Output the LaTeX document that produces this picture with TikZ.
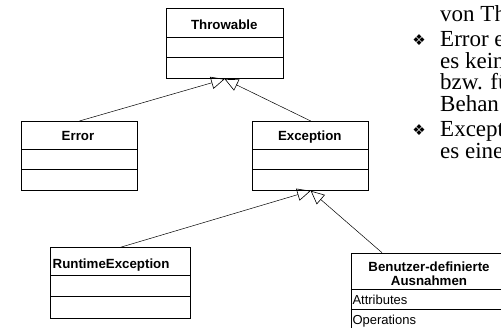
\documentclass[tikz,border=0pt]{standalone}
\usepackage{fontspec}
\setmainfont{Liberation Serif}
\newfontfamily\umlfont{Liberation Sans}
\newfontfamily\symfont{DejaVu Sans}
\usetikzlibrary{arrows.meta}
\begin{document}
\begin{tikzpicture}[x=1pt,y=-1pt,
  umlbox/.style={draw=black, line width=0.8pt, fill=white, inner sep=0pt, anchor=north west},
  divider/.style={line width=0.8pt},
  gen/.style={line width=0.5pt, -{Triangle[open, length=13.5pt, width=12.5pt, line width=0.6pt]}},
  hdr/.style={font=\umlfont\bfseries\fontsize{13.3}{14}\selectfont, inner sep=0pt, anchor=base},
  member/.style={font=\umlfont\fontsize{13}{14}\selectfont, inner sep=0pt, anchor=base west},
  slide/.style={font=\fontsize{23}{23}\selectfont, inner sep=0pt, anchor=base west},
  bul/.style={font=\symfont\fontsize{15}{15}\selectfont, inner sep=0pt}]
\useasboundingbox (0,0) rectangle (501,328);

% Throwable
\node[umlbox, minimum width=116.5pt, minimum height=70pt] (throw) at (166,8.3) {};
\draw[divider] (166,37.3) -- (282.5,37.3);
\draw[divider] (166,57.7) -- (282.5,57.7);
\node[hdr] (throwT) at (224.3,30) {Throwable};

% Error
\node[umlbox, minimum width=116pt, minimum height=69pt] (err) at (21,121) {};
\draw[divider] (21,149) -- (137,149);
\draw[divider] (21,169.3) -- (137,169.3);
\node[hdr] (errT) at (78,140.7) {Error};

% Exception
\node[umlbox, minimum width=116pt, minimum height=69pt] (exc) at (252.3,121) {};
\draw[divider] (252.3,149) -- (368.3,149);
\draw[divider] (252.3,169.3) -- (368.3,169.3);
\node[hdr] (excT) at (309.8,140.5) {Exception};

% RuntimeException
\node[umlbox, minimum width=140pt, minimum height=70.4pt] (rt) at (50,247.3) {};
\draw[divider] (50,275.7) -- (190,275.7);
\draw[divider] (50,296) -- (190,296);
\node[hdr, anchor=base west] (rtT) at (52.5,268.3) {RuntimeException};

% Benutzer-definierte Ausnahmen
\node[umlbox, minimum width=156.3pt, minimum height=78pt] (bn) at (350.7,252.7) {};
\draw[divider] (350.7,289.3) -- (507,289.3);
\draw[divider] (350.7,309) -- (507,309);
\node[hdr] (bnT1) at (429,272) {Benutzer-definierte};
\node[hdr] (bnT2) at (429,285.3) {Ausnahmen};
\node[member] (bnA) at (352.3,305) {Attributes};
\node[member] (bnO) at (352.3,325) {Operations};
\coordinate (bnIn) at (382,252.7);

% generalisations
\draw[gen] (err.north) -- (throw.south);
\draw[gen] (exc.north) -- (throw.south);
\draw[gen] (rt.north) -- (exc.south);
\draw[gen] (bnIn) -- (exc.south);

% slide text (cropped at the right edge)
\node[slide] (l1) at (440,21.7) {von Th};
\node[bul] (b1) at (419,40) {❖};
\node[slide] (l2) at (440,46.7) {Error e};
\node[slide] (l3) at (440,68.3) {es kein};
\node[slide] (l4) at (440,90) {bzw. fü};
\node[slide] (l5) at (440,111.7) {Behan};
\node[bul] (b2) at (419,130) {❖};
\node[slide] (l6) at (440,136.7) {Except};
\node[slide] (l7) at (440,158.4) {es eine};
\end{tikzpicture}
\end{document}
